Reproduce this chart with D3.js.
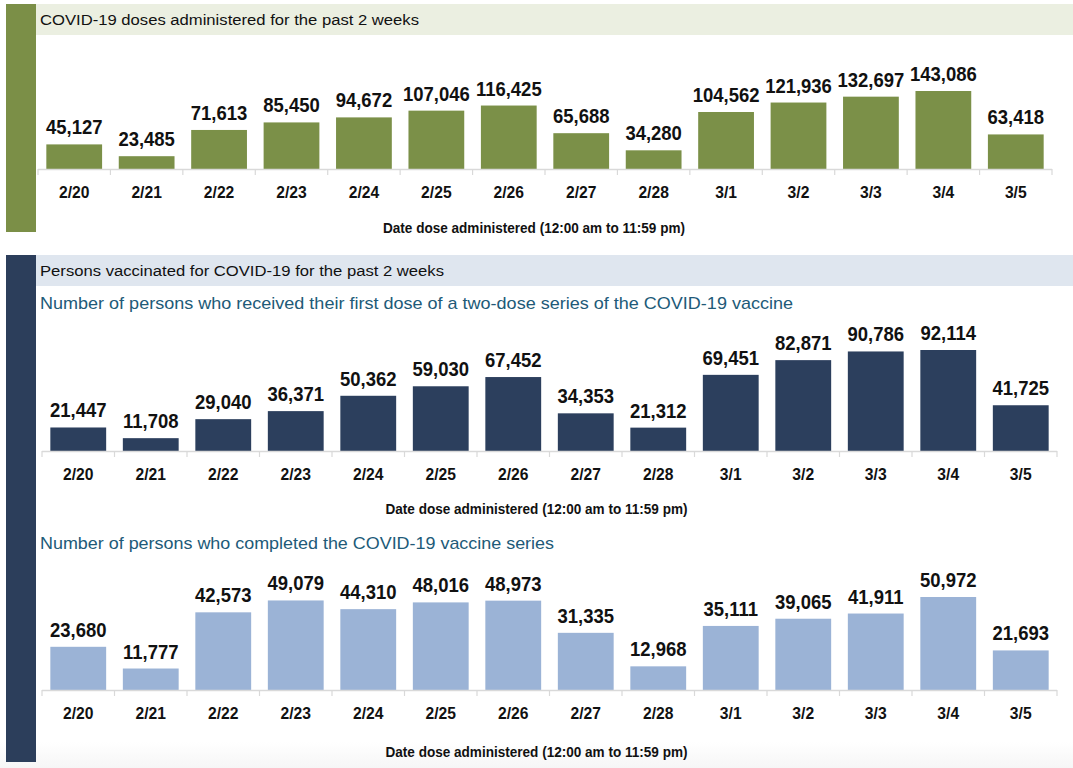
<!DOCTYPE html>
<html>
<head>
<meta charset="utf-8">
<script src="https://cdn.jsdelivr.net/npm/d3@7"></script>
<style>
  html, body { margin: 0; padding: 0; background: #fff; }
  svg { display: block; font-family: "Liberation Sans", Arial, sans-serif; }
</style>
</head>
<body>
<svg id="chart" width="1073" height="768"></svg>
<script>
const dates = ["2/20","2/21","2/22","2/23","2/24","2/25","2/26","2/27","2/28","3/1","3/2","3/3","3/4","3/5"];
const dosesAdministered = [45127,23485,71613,85450,94672,107046,116425,65688,34280,104562,121936,132697,143086,63418];
const firstDose = [21447,11708,29040,36371,50362,59030,67452,34353,21312,69451,82871,90786,92114,41725];
const completedSeries = [23680,11777,42573,49079,44310,48016,48973,31335,12968,35111,39065,41911,50972,21693];

const titleDoses = "COVID-19 doses administered for the past 2 weeks";
const titlePersons = "Persons vaccinated for COVID-19 for the past 2 weeks";
const subtitleFirst = "Number of persons who received their first dose of a two-dose series of the COVID-19 vaccine";
const subtitleCompleted = "Number of persons who completed the COVID-19 vaccine series";
const xAxisTitle = "Date dose administered (12:00 am to 11:59 pm)";

const svg = d3.select("#chart");
const fmt = d3.format(",");

// background bottom gradient
const defs = svg.append("defs");
const grad = defs.append("linearGradient").attr("id","bottomFade").attr("x1",0).attr("y1",0).attr("x2",0).attr("y2",1);
grad.append("stop").attr("offset","0").attr("stop-color","#ffffff");
grad.append("stop").attr("offset","1").attr("stop-color","#f6f6f6");
svg.append("rect").attr("x",0).attr("y",742).attr("width",1073).attr("height",26).attr("fill","url(#bottomFade)");

// Panel 1 decorations
svg.append("rect").attr("x",6).attr("y",4).attr("width",30).attr("height",228).attr("fill","#7b8f47");
svg.append("rect").attr("x",36).attr("y",4).attr("width",1037).attr("height",31).attr("fill","#ebefe1");
svg.append("text").attr("x",40).attr("y",25).attr("font-size",15.5).attr("fill","#111")
  .attr("textLength",379).attr("lengthAdjust","spacingAndGlyphs").text(titleDoses);

// Panel 2 decorations
svg.append("rect").attr("x",6).attr("y",255).attr("width",30).attr("height",507).attr("fill","#2c3e5b");
svg.append("rect").attr("x",36).attr("y",255).attr("width",1037).attr("height",31).attr("fill","#dfe6ef");
svg.append("text").attr("x",40).attr("y",276).attr("font-size",15.5).attr("fill","#111")
  .attr("textLength",404).attr("lengthAdjust","spacingAndGlyphs").text(titlePersons);
svg.append("text").attr("x",40).attr("y",309).attr("font-size",17).attr("fill","#215a78")
  .attr("textLength",753).attr("lengthAdjust","spacingAndGlyphs").text(subtitleFirst);
svg.append("text").attr("x",40).attr("y",549).attr("font-size",17).attr("fill","#215a78")
  .attr("textLength",514).attr("lengthAdjust","spacingAndGlyphs").text(subtitleCompleted);

function barChart(values, opts) {
  const g = svg.append("g");
  const x = d3.scaleBand().domain(dates).range([opts.x0, opts.x1]).paddingInner(0.23).paddingOuter(0.115);
  const y = d3.scaleLinear().domain([0, opts.maxVal]).range([opts.base, opts.base - opts.maxPx]);

  g.selectAll("rect.bar").data(values).join("rect")
    .attr("class","bar")
    .attr("x",(d,i)=>x(dates[i]))
    .attr("width",x.bandwidth())
    .attr("y",d=>y(d))
    .attr("height",d=>opts.base - y(d))
    .attr("fill",opts.color);

  g.selectAll("text.val").data(values).join("text")
    .attr("class","val")
    .attr("transform",(d,i)=>`translate(${x(dates[i]) + x.bandwidth()/2},${y(d) - 10}) scale(0.88,1)`)
    .attr("text-anchor","middle")
    .attr("font-size",21)
    .attr("font-weight","bold")
    .attr("fill","#111")
    .text(d=>fmt(d));

  // axis line and tick marks at band edges
  const step = x.step();
  g.append("line").attr("x1",opts.x0).attr("x2",opts.x1).attr("y1",opts.base+0.5).attr("y2",opts.base+0.5)
    .attr("stroke","#d9d9d9").attr("stroke-width",1.5);
  const edges = d3.range(dates.length + 1).map(i => opts.x0 + i * step);
  g.selectAll("line.tk").data(edges).join("line").attr("class","tk")
    .attr("x1",d=>d).attr("x2",d=>d).attr("y1",opts.base).attr("y2",opts.base+6)
    .attr("stroke","#d9d9d9").attr("stroke-width",1.2);

  g.selectAll("text.tl").data(dates).join("text").attr("class","tl")
    .attr("transform",d=>`translate(${x(d)+x.bandwidth()/2},${opts.base + 29}) scale(0.95,1)`)
    .attr("text-anchor","middle")
    .attr("font-size",16.5)
    .attr("font-weight","bold")
    .attr("fill","#111")
    .text(d=>d);

  g.append("text")
    .attr("x",(opts.x0+opts.x1)/2 + opts.titleShift)
    .attr("y",opts.base + opts.titleDy)
    .attr("text-anchor","middle")
    .attr("font-size",15)
    .attr("font-weight","bold")
    .attr("fill","#111")
    .attr("textLength",302).attr("lengthAdjust","spacingAndGlyphs")
    .text(xAxisTitle);
}

barChart(dosesAdministered, {x0:38, x1:1052, base:169, maxVal:143086, maxPx:78, color:"#7b9048", titleDy:64, titleShift:-11});
barChart(firstDose, {x0:42, x1:1057, base:451, maxVal:92114, maxPx:101, color:"#2c3f5d", titleDy:63, titleShift:-13});
barChart(completedSeries, {x0:42, x1:1057, base:690, maxVal:50972, maxPx:93, color:"#9bb3d6", titleDy:67, titleShift:-13});
</script>
</body>
</html>
